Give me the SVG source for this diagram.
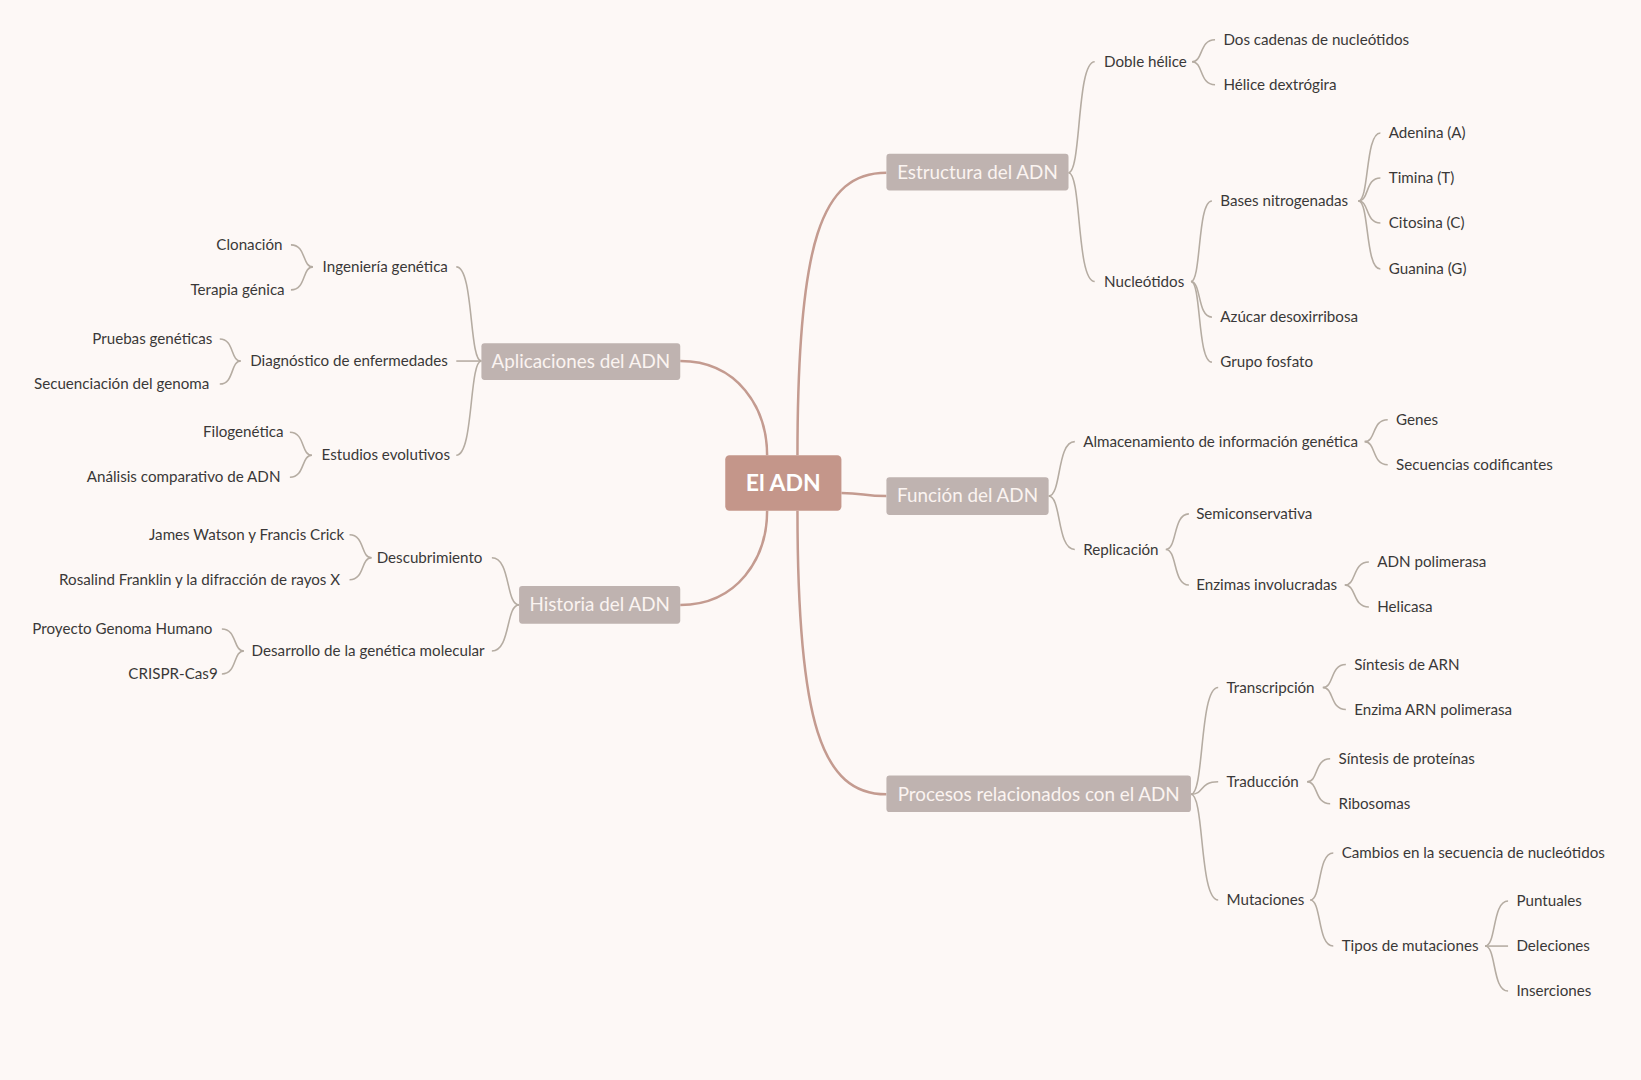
<svg xmlns="http://www.w3.org/2000/svg" width="1641" height="1080" viewBox="0 0 1641 1080">
<style>
.bg{fill:#FDF8F6}
.root rect{fill:#C4968A}
.root text{fill:#FFFFFF;font-family:Lato,"Noto Sans",sans-serif;font-weight:bold;font-size:22px;text-anchor:middle}
.main rect{fill:#BFB3B0}
.main text{fill:#FBF4F1;font-family:Lato,"Noto Sans",sans-serif;font-size:18px;text-anchor:middle}
.leaf text{fill:#3A3838;font-family:Lato,"Noto Sans",sans-serif;font-size:14.5px}
.leaf text.l{text-anchor:end}
.mc{fill:none;stroke:#C49B90;stroke-width:2.4}
.sc{fill:none;stroke:#B5ACA2;stroke-width:1.5}
</style>
<rect class="bg" x="0" y="0" width="1641" height="1080"/>
<g transform="scale(1.04654)">
<g id="connectors">
<path class="mc" d="M762 435 C762 230 785 165 847 165"/>
<path class="mc" d="M762 488 C762 690 785 759 847 759"/>
<path class="mc" d="M804 471 C825 471 825 474 847 474"/>
<path class="mc" d="M650 345 C705 345 733 390 733 435"/>
<path class="mc" d="M650 578 C705 578 733 533 733 488"/>
<path class="sc" d="M1021 165 C1033.5 165 1028.5 59 1046 59"/>
<path class="sc" d="M1021 165 C1033.5 165 1028.5 269 1046 269"/>
<path class="sc" d="M1139 59 C1150 59 1145.6 38 1161 38"/>
<path class="sc" d="M1139 59 C1150 59 1145.6 81 1161 81"/>
<path class="sc" d="M1138 269 C1148 269 1144 192 1158 192"/>
<path class="sc" d="M1138 269 C1148 269 1144 303 1158 303"/>
<path class="sc" d="M1138 269 C1148 269 1144 346 1158 346"/>
<path class="sc" d="M1298 192 C1308.5 192 1304.3 127 1319 127"/>
<path class="sc" d="M1298 192 C1308.5 192 1304.3 170 1319 170"/>
<path class="sc" d="M1298 192 C1308.5 192 1304.3 213 1319 213"/>
<path class="sc" d="M1298 192 C1308.5 192 1304.3 257 1319 257"/>
<path class="sc" d="M1002 474 C1014.5 474 1009.5 422 1027 422"/>
<path class="sc" d="M1002 474 C1014.5 474 1009.5 525 1027 525"/>
<path class="sc" d="M1304 422 C1315 422 1310.6 401 1326 401"/>
<path class="sc" d="M1304 422 C1315 422 1310.6 444 1326 444"/>
<path class="sc" d="M1114 525 C1125 525 1120.6 491 1136 491"/>
<path class="sc" d="M1114 525 C1125 525 1120.6 559 1136 559"/>
<path class="sc" d="M1285 559 C1296.5 559 1291.9 537 1308 537"/>
<path class="sc" d="M1285 559 C1296.5 559 1291.9 580 1308 580"/>
<path class="sc" d="M1138 759 C1151 759 1145.8 657 1164 657"/>
<path class="sc" d="M1138 759 C1151 759 1145.8 747 1164 747"/>
<path class="sc" d="M1138 759 C1151 759 1145.8 860 1164 860"/>
<path class="sc" d="M1264 657 C1275 657 1270.6 635 1286 635"/>
<path class="sc" d="M1264 657 C1275 657 1270.6 678 1286 678"/>
<path class="sc" d="M1249 747 C1260 747 1255.6 725 1271 725"/>
<path class="sc" d="M1249 747 C1260 747 1255.6 768 1271 768"/>
<path class="sc" d="M1252 860 C1263 860 1258.6 815 1274 815"/>
<path class="sc" d="M1252 860 C1263 860 1258.6 904 1274 904"/>
<path class="sc" d="M1419 904 C1430 904 1425.6 861 1441 861"/>
<path class="sc" d="M1419 904 L1441 904"/>
<path class="sc" d="M1419 904 C1430 904 1425.6 947 1441 947"/>
<path class="sc" d="M460 345 C448 345 452.8 255 436 255"/>
<path class="sc" d="M460 345 L436 345"/>
<path class="sc" d="M460 345 C448 345 452.8 435 436 435"/>
<path class="sc" d="M299 255 C288.5 255 292.7 234 278 234"/>
<path class="sc" d="M299 255 C288.5 255 292.7 277 278 277"/>
<path class="sc" d="M230 345 C220 345 224 324 210 324"/>
<path class="sc" d="M230 345 C220 345 224 367 210 367"/>
<path class="sc" d="M298 435 C287.5 435 291.7 413 277 413"/>
<path class="sc" d="M298 435 C287.5 435 291.7 456 277 456"/>
<path class="sc" d="M496 578 C483 578 488.2 533 470 533"/>
<path class="sc" d="M496 578 C483 578 488.2 622 470 622"/>
<path class="sc" d="M355 533 C344.5 533 348.7 511 334 511"/>
<path class="sc" d="M355 533 C344.5 533 348.7 554 334 554"/>
<path class="sc" d="M233 622 C222.5 622 226.7 601 212 601"/>
<path class="sc" d="M233 622 C222.5 622 226.7 644 212 644"/>
</g>
<g id="root" class="root"><rect x="693" y="435" width="111" height="53" rx="4"/><text x="748.5" y="469">El ADN</text></g>
<g id="estructura" class="main"><rect x="847" y="147" width="174" height="35" rx="3"/><text x="934" y="171">Estructura del ADN</text></g>
<g id="funcion" class="main"><rect x="847" y="456" width="155" height="36" rx="3"/><text x="924.5" y="480">Función del ADN</text></g>
<g id="procesos" class="main"><rect x="847" y="741" width="291" height="35" rx="3"/><text x="992.5" y="765">Procesos relacionados con el ADN</text></g>
<g id="aplicaciones" class="main"><rect x="460" y="328" width="190" height="35" rx="3"/><text x="555" y="352">Aplicaciones del ADN</text></g>
<g id="historia" class="main"><rect x="496" y="560" width="154" height="36" rx="3"/><text x="573" y="584">Historia del ADN</text></g>
<g id="estructura-hijos" class="leaf">
<g id="doble-helice"><text x="1055" y="64">Doble hélice</text></g>
<g id="dos-cadenas"><text x="1169" y="43">Dos cadenas de nucleótidos</text></g>
<g id="helice-dextrogira"><text x="1169" y="86">Hélice dextrógira</text></g>
<g id="nucleotidos"><text x="1055" y="274">Nucleótidos</text></g>
<g id="bases"><text x="1166" y="197">Bases nitrogenadas</text></g>
<g id="adenina"><text x="1327" y="132">Adenina (A)</text></g>
<g id="timina"><text x="1327" y="175">Timina (T)</text></g>
<g id="citosina"><text x="1327" y="218">Citosina (C)</text></g>
<g id="guanina"><text x="1327" y="262">Guanina (G)</text></g>
<g id="azucar"><text x="1166" y="308">Azúcar desoxirribosa</text></g>
<g id="fosfato"><text x="1166" y="351">Grupo fosfato</text></g>
</g>
<g id="funcion-hijos" class="leaf">
<g id="almacenamiento"><text x="1035" y="427">Almacenamiento de información genética</text></g>
<g id="genes"><text x="1334" y="406">Genes</text></g>
<g id="secuencias"><text x="1334" y="449">Secuencias codificantes</text></g>
<g id="replicacion"><text x="1035" y="530">Replicación</text></g>
<g id="semiconservativa"><text x="1143" y="496">Semiconservativa</text></g>
<g id="enzimas"><text x="1143" y="564">Enzimas involucradas</text></g>
<g id="adn-polimerasa"><text x="1316" y="542">ADN polimerasa</text></g>
<g id="helicasa"><text x="1316" y="585">Helicasa</text></g>
</g>
<g id="procesos-hijos" class="leaf">
<g id="transcripcion"><text x="1172" y="662">Transcripción</text></g>
<g id="sintesis-arn"><text x="1294" y="640">Síntesis de ARN</text></g>
<g id="enzima-arn"><text x="1294" y="683">Enzima ARN polimerasa</text></g>
<g id="traduccion"><text x="1172" y="752">Traducción</text></g>
<g id="sintesis-proteinas"><text x="1279" y="730">Síntesis de proteínas</text></g>
<g id="ribosomas"><text x="1279" y="773">Ribosomas</text></g>
<g id="mutaciones"><text x="1172" y="865">Mutaciones</text></g>
<g id="cambios"><text x="1282" y="820">Cambios en la secuencia de nucleótidos</text></g>
<g id="tipos"><text x="1282" y="909">Tipos de mutaciones</text></g>
<g id="puntuales"><text x="1449" y="866">Puntuales</text></g>
<g id="deleciones"><text x="1449" y="909">Deleciones</text></g>
<g id="inserciones"><text x="1449" y="952">Inserciones</text></g>
</g>
<g id="aplicaciones-hijos" class="leaf">
<g id="ingenieria"><text class="l" x="428" y="260">Ingeniería genética</text></g>
<g id="clonacion"><text class="l" x="270" y="239">Clonación</text></g>
<g id="terapia"><text class="l" x="272" y="282">Terapia génica</text></g>
<g id="diagnostico"><text class="l" x="428" y="350">Diagnóstico de enfermedades</text></g>
<g id="pruebas"><text class="l" x="203" y="329">Pruebas genéticas</text></g>
<g id="secuenciacion"><text class="l" x="200" y="372">Secuenciación del genoma</text></g>
<g id="estudios"><text class="l" x="430" y="440">Estudios evolutivos</text></g>
<g id="filogenetica"><text class="l" x="271" y="418">Filogenética</text></g>
<g id="analisis"><text class="l" x="268" y="461">Análisis comparativo de ADN</text></g>
</g>
<g id="historia-hijos" class="leaf">
<g id="descubrimiento"><text class="l" x="461" y="538">Descubrimiento</text></g>
<g id="watson-crick"><text class="l" x="329" y="516">James Watson y Francis Crick</text></g>
<g id="franklin"><text class="l" x="325" y="559">Rosalind Franklin y la difracción de rayos X</text></g>
<g id="desarrollo"><text class="l" x="463" y="627">Desarrollo de la genética molecular</text></g>
<g id="genoma-humano"><text class="l" x="203" y="606">Proyecto Genoma Humano</text></g>
<g id="crispr"><text class="l" x="208" y="649">CRISPR-Cas9</text></g>
</g>
</g>
</svg>
